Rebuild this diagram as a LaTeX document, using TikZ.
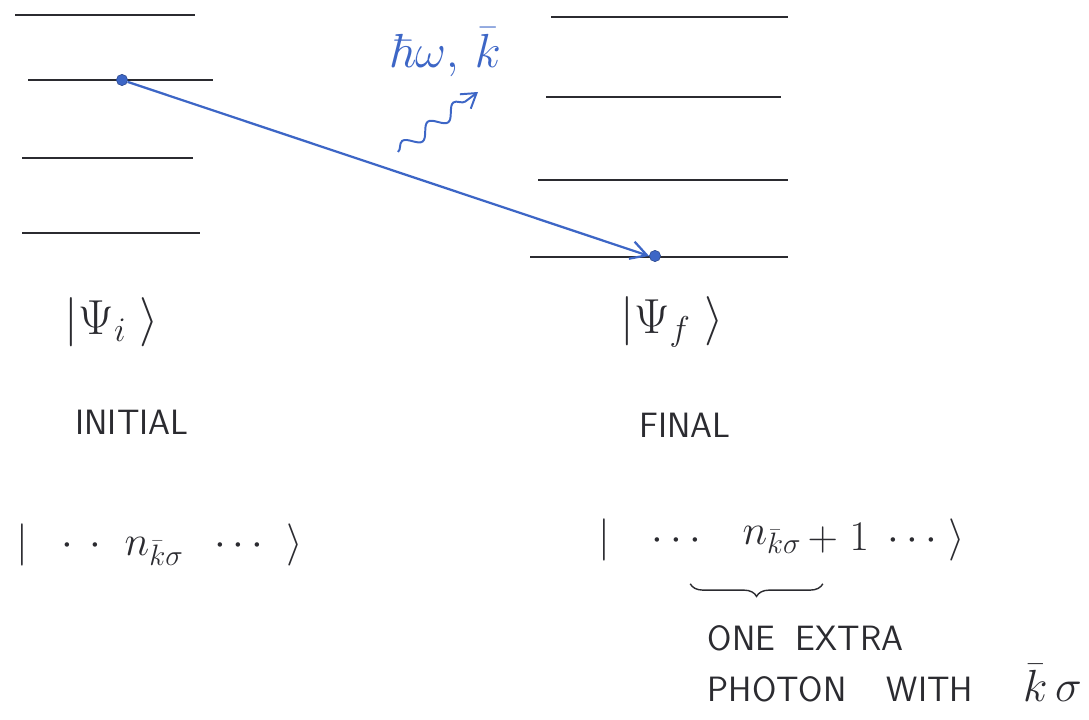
\RequirePackage{fix-cm}
\documentclass[tikz,border=0pt]{standalone}
\usepackage{amsmath,amssymb}
\usepackage{xcolor}
\usepackage{tikz}
\usetikzlibrary{arrows.meta,positioning,decorations.pathmorphing,decorations.pathreplacing}
\definecolor{inkblue}{HTML}{3D66C6}
\definecolor{inkgray}{HTML}{2B2B30}
\tikzset{
  level/.style={draw=inkgray,line width=1pt},
  label/.style={text=inkgray,font=\fontsize{30}{34}\selectfont,inner sep=1pt},
  caps/.style={label,font=\fontsize{25}{36}\selectfont\sffamily},
  state/.style={circle,fill=inkblue,draw=inkblue!70!black,inner sep=0pt,minimum size=8pt},
  jump/.style={inkblue,line width=1.6pt,-{Straight Barb[length=4mm,width=4.5mm]}},
  photon/.style={inkblue,line width=1.4pt,-{Straight Barb[length=3.5mm,width=4.5mm]},
    decorate,decoration={snake,amplitude=1.6mm,segment length=8mm,post length=3.5mm}}
}
\begin{document}
\begin{tikzpicture}[x=0.025cm,y=-0.025cm]
  \useasboundingbox (0,0) rectangle (1089,720);

  % Initial levels
  \draw[level] (15,15) -- (195,15);
  \draw[level] (28,80) -- (213,80);
  \draw[level] (22,158) -- (193,158);
  \draw[level] (22,233) -- (200,233);

  % Final levels
  \draw[level] (551,17) -- (788,17);
  \draw[level] (546,97) -- (781,97);
  \draw[level] (538,180) -- (788,180);
  \draw[level] (530,257) -- (788,257);

  % Occupied states and the transition
  \node[state] (occI) at (122,80) {};
  \node[state] (occF) at (655,256) {};
  \draw[jump] (occI) -- (occF.west);

  % Emitted photon
  \coordinate (phA) at (398,152);
  \coordinate (phB) at (478,92);
  \draw[photon] (phA) -- (phB);
  \node[label,text=inkblue,font=\fontsize{34}{38}\selectfont] (phLab) at (445,52) {$\hbar\omega,\,\bar{k}$};

  % Atomic states
  \node[label,font=\fontsize{35}{38}\selectfont] (psiI) at (112,322) {$|\Psi_i\;\rangle$};
  \node[caps] (initial) at (132,422) {INITIAL};
  \node[label,font=\fontsize{35}{38}\selectfont] (psiF) at (672,322) {$|\Psi_f\;\rangle$};
  \node[caps] (final) at (685,425) {FINAL};

  % Field states
  \node[label] (ketI) at (160,545) {$|\;\;\cdot\,\cdot\;\; n_{\bar{k}\sigma}\;\;\cdots\;\;\rangle$};
  \node[label] (nF) at (772,540) {$n_{\bar{k}\sigma}$};
  \node[label,left=2pt of nF] (ketFl) {$|\;\;\;\cdots\;\;\;$};
  \node[label,right=2pt of nF] (ketFr) {$+\;1\;\cdots\;\rangle$};
  \draw[inkgray,line width=1pt,decorate,decoration={brace,mirror,amplitude=9pt}]
    ([xshift=-36pt,yshift=-20pt]nF.south west) -- ([xshift=14pt,yshift=-20pt]nF.south east);
  \node[caps,align=left,anchor=north west] (extra) at (706,624)
    {ONE\; EXTRA\\PHOTON\;\;\; WITH\;\;\;\; {\fontsize{32}{36}\selectfont$\bar{k}\,\sigma$}};
\end{tikzpicture}
\end{document}
